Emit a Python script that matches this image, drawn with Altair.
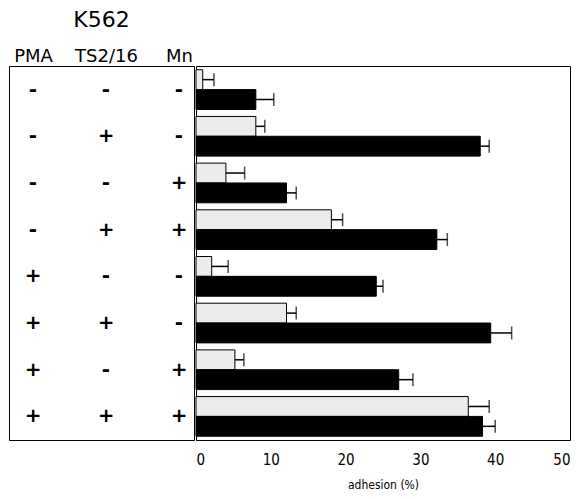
import altair as alt
import pandas as pd

# ---- data ----
rows = ["1", "2", "3", "4", "5", "6", "7", "8"]
factors = ["PMA", "TS2/16", "Mn"]
pma = ["-", "-", "-", "-", "+", "+", "+", "+"]
ts216 = ["-", "+", "-", "+", "-", "+", "-", "+"]
mn = ["-", "-", "+", "+", "-", "-", "+", "+"]

series = ["series 1", "series 2"]          # stippled bar, black bar
s1_values = [0.9, 8.0, 4.0, 18.1, 2.1, 12.1, 5.2, 36.4]
s1_err = [1.5, 1.2, 2.5, 1.5, 2.2, 1.3, 1.2, 2.8]
s2_values = [8.0, 38.0, 12.1, 32.2, 24.1, 39.4, 27.1, 38.3]
s2_err = [2.4, 1.2, 1.3, 1.4, 0.9, 2.8, 1.9, 1.7]
x_ticks = [0, 10, 20, 30, 40, 50]

# ---- tables ----
sign_rows = []
for r, a, b, c in zip(rows, pma, ts216, mn):
    for f, s in zip(factors, [a, b, c]):
        sign_rows.append({"row": r, "factor": f, "sign": s})
signs_df = pd.DataFrame(sign_rows)

bar_rows = []
for name, vals, errs in [(series[0], s1_values, s1_err), (series[1], s2_values, s2_err)]:
    for r, v, e in zip(rows, vals, errs):
        bar_rows.append({"row": r, "series": name, "value": v, "sd": e})
bars_df = pd.DataFrame(bar_rows)

PANEL_H = 374

y_enc = alt.Y("row:O", sort=rows,
              scale=alt.Scale(type="band", paddingInner=0.15, paddingOuter=0.08),
              axis=None)

left = alt.Chart(signs_df).mark_text(
    font="DejaVu Sans", fontSize=20, fontWeight="bold", baseline="middle",
    align="center", color="black"
).encode(
    x=alt.X("factor:N", sort=factors,
            scale=alt.Scale(type="point", range=[24, 170], padding=0),
            axis=alt.Axis(orient="top", title=None, domain=False, ticks=False,
                          labelAngle=0, labelFont="DejaVu Sans", labelFontSize=18,
                          labelColor="black", labelPadding=1)),
    y=y_enc,
    text="sign:N",
).properties(
    width=185, height=PANEL_H,
    title=alt.TitleParams("K562", font="DejaVu Sans", fontSize=22, fontWeight="normal",
                          color="black", anchor="middle", offset=15),
)

x_axis = alt.Axis(values=x_ticks, ticks=False, domain=False, grid=False,
                  labelFont="DejaVu Sans Condensed", labelFontSize=15, labelColor="black",
                  labelPadding=12, title="adhesion (%)", titleFont="DejaVu Sans Condensed",
                  titleFontSize=12, titleFontWeight="normal", titleColor="black",
                  titlePadding=12)
x_scale = alt.Scale(domain=[0, 50], nice=False)
yoff = alt.YOffset("series:N", sort=series, scale=alt.Scale(paddingInner=0, paddingOuter=0))

base = alt.Chart(bars_df).transform_calculate(upper="datum.value + datum.sd")

bars = base.mark_bar(stroke="black", strokeWidth=1).encode(
    x=alt.X("value:Q", scale=x_scale, axis=x_axis),
    y=y_enc,
    yOffset=yoff,
    color=alt.Color("series:N", sort=series,
                    scale=alt.Scale(domain=series, range=["#ececec", "black"]),
                    legend=None),
)
err_lines = base.mark_rule(color="black", strokeWidth=1.5).encode(
    x=alt.X("value:Q", scale=x_scale, axis=x_axis),
    x2="upper:Q",
    y=y_enc,
    yOffset=yoff,
)
err_caps = base.mark_tick(color="black", thickness=1.5, size=13, orient="vertical").encode(
    x=alt.X("upper:Q", scale=x_scale, axis=x_axis),
    y=y_enc,
    yOffset=yoff,
)

right = alt.layer(bars, err_lines, err_caps).properties(width=374, height=PANEL_H)

chart = alt.hconcat(left, right, spacing=0).configure_view(
    stroke="black", strokeWidth=1
).configure_concat(spacing=0).properties(
    padding={"left": 0, "top": 0, "right": 0, "bottom": 0},
    background="white",
)

chart.save("out.html", embed_options={"renderer": "svg", "actions": False})
